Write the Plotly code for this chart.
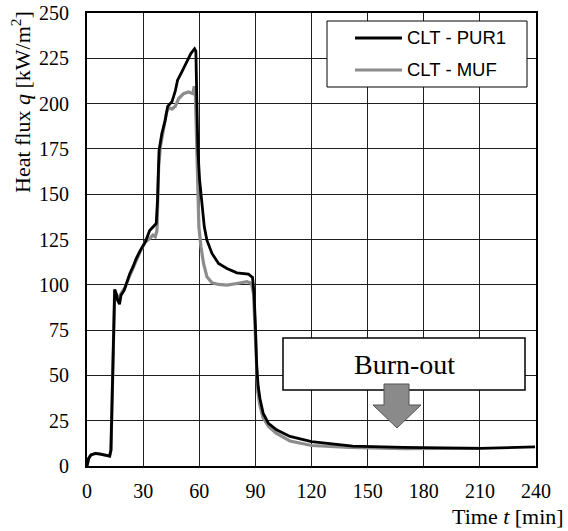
import plotly.graph_objects as go

# ---- data ----
t_pur1 = [0, 0.9, 2.1, 4.5, 7.1, 9.8, 12.1, 12.8, 13.9, 14.6, 14.8, 15.7, 16.4, 17.4, 18.2, 19.9,
          21.4, 22.8, 24.6, 26.3, 28.5, 31.2, 33.5, 35.6, 37.0, 37.7, 38.5, 40.0, 41.8, 43.1, 45.4,
          47.2, 48.4, 50.7, 53.1, 55.5, 57.5, 58.2, 58.7, 59.3, 60.2, 61.4, 62.7, 64.1, 66.8, 70.3,
          74.8, 80.1, 86.3, 88.5, 89.3, 90.0, 90.7, 91.5, 92.5, 94.2, 97.0, 101.3, 108.5, 120, 124.5,
          142, 169, 210, 239.5]
q_pur1 = [0, 4.2, 6.1, 7.0, 6.6, 6.1, 5.5, 8.8, 54.8, 91.5, 97.4, 95.0, 91.5, 89.3, 94.3, 97.0,
          101.7, 106.0, 110.0, 114.5, 119.0, 123.7, 130.0, 132.0, 133.8, 146.7, 174.0, 183.5, 190.8,
          198.5, 201.0, 207.0, 212.9, 217.5, 223.0, 227.6, 230.3, 229.0, 201.8, 174.0, 157.7, 143.0,
          132.0, 124.6, 117.3, 111.8, 109.0, 106.6, 105.9, 104.0, 95.0, 78.0, 55.0, 44.0, 37.0, 29.0,
          23.5, 20.0, 16.3, 13.4, 12.9, 11.0, 10.3, 9.7, 10.6]

t_muf = [0, 0.9, 2.1, 4.5, 7.1, 9.8, 12.1, 12.8, 13.9, 14.6, 14.8, 15.1, 16.0, 17.1, 18.7, 20.5,
         22.8, 24.6, 26.3, 28.5, 31.2, 33.5, 35.2, 36.5, 37.4, 38.3, 39.2, 40.9, 42.4, 43.6, 45.4,
         47.2, 49.0, 51.6, 54.3, 56.6, 57.3, 57.9, 58.4, 59.1, 59.8, 60.9, 62.3, 64.1, 66.8, 70.3,
         74.8, 80.1, 85.5, 87.2, 88.1, 89.0, 89.8, 90.5, 91.3, 92.3, 94.0, 97.0, 101.3, 108.5, 120,
         140, 170, 210]
q_muf = [0, 4.2, 6.1, 7.0, 6.6, 6.1, 5.5, 8.8, 54.8, 91.5, 97.4, 96.0, 92.5, 93.4, 96.0, 98.9,
         105.0, 109.5, 114.0, 118.5, 123.7, 125.5, 127.4, 126.5, 130.0, 165.0, 176.0, 185.0, 194.5,
         198.0, 197.0, 198.5, 202.8, 205.5, 206.4, 205.5, 209.6, 206.4, 183.5, 154.0, 132.0, 121.0,
         111.8, 104.4, 101.1, 100.2, 99.8, 100.7, 101.7, 101.1, 99.8, 95.0, 75.0, 52.0, 41.0, 34.0,
         27.0, 21.8, 18.0, 13.8, 11.3, 10.3, 9.6, 9.8]

series_names = ["CLT - PUR1", "CLT - MUF"]
series_colors = ["#000000", "#8c8c8c"]
x_ticks = [0, 30, 60, 90, 120, 150, 180, 210, 240]
y_ticks = [0, 25, 50, 75, 100, 125, 150, 175, 200, 225, 250]

# ---- layout geometry (pixels) ----
W, H = 568, 531
L, R, T, B = 87, 536, 13, 466
SERIF = "Liberation Serif, Times New Roman, serif"
SANS = "Liberation Sans, Arial, sans-serif"


def px(x):
    return (x - L) / (R - L)


def py(y):
    return (B - y) / (B - T)


fig = go.Figure()
fig.add_trace(go.Scatter(x=t_muf, y=q_muf, mode="lines", name=series_names[1],
                         line=dict(color=series_colors[1], width=3.2), showlegend=False))
fig.add_trace(go.Scatter(x=t_pur1, y=q_pur1, mode="lines", name=series_names[0],
                         line=dict(color=series_colors[0], width=2.8), showlegend=False))

shapes = []
annotations = []

# legend box
shapes.append(dict(type="rect", xref="paper", yref="paper", x0=px(327), x1=px(527),
                   y0=py(87), y1=py(21), fillcolor="white", line=dict(color="black", width=1),
                   layer="above"))
for i, (nm, col) in enumerate(zip(series_names, series_colors)):
    yy = 38 + 32 * i
    shapes.append(dict(type="line", xref="paper", yref="paper", x0=px(355), x1=px(402),
                       y0=py(yy), y1=py(yy), line=dict(color=col, width=3), layer="above"))
    annotations.append(dict(xref="paper", yref="paper", x=px(405), y=py(yy), text=nm,
                            showarrow=False, xanchor="left", yanchor="middle",
                            font=dict(family=SANS, size=18.5, color="black")))

# burn-out box
shapes.append(dict(type="rect", xref="paper", yref="paper", x0=px(283), x1=px(525),
                   y0=py(390), y1=py(338), fillcolor="white", line=dict(color="black", width=1.5),
                   layer="above"))
annotations.append(dict(xref="paper", yref="paper", x=px(404), y=py(364), text="Burn-out",
                        showarrow=False, xanchor="center", yanchor="middle",
                        font=dict(family=SERIF, size=28, color="black")))
# arrow
pts = [(384, 384), (409, 384), (409, 405), (421, 405), (397, 428), (373, 405), (384, 405)]
path = "M " + " L ".join(f"{px(a):.5f},{py(b):.5f}" for a, b in pts) + " Z"
shapes.append(dict(type="path", xref="paper", yref="paper", path=path, fillcolor="#8a8a8a",
                   line=dict(color="#555555", width=1), layer="above"))

# axis titles
annotations.append(dict(xref="paper", yref="paper", x=px(21), y=py(102),
                        text="Heat flux <i>q</i> [kW/m<sup>2</sup>]", textangle=-90,
                        showarrow=False, xanchor="center", yanchor="middle",
                        font=dict(family=SERIF, size=22, color="black")))
annotations.append(dict(xref="paper", yref="paper", x=px(566), y=py(516),
                        text="Time <i>t</i> [min]", showarrow=False, xanchor="right",
                        yanchor="middle", font=dict(family=SERIF, size=22, color="black")))

fig.update_layout(
    width=W, height=H,
    margin=dict(l=L, r=W - R, t=T, b=H - B, pad=0, autoexpand=False),
    paper_bgcolor="white", plot_bgcolor="white",
    shapes=shapes, annotations=annotations,
    xaxis=dict(range=[0, 240], tickvals=x_ticks, ticktext=[str(v) for v in x_ticks],
               showgrid=True, gridcolor="#1e1e1e", gridwidth=1, zeroline=False,
               showline=True, linecolor="black", linewidth=2, mirror=True,
               ticks="", ticklabelstandoff=6, automargin=False,
               tickfont=dict(family=SERIF, size=20, color="black")),
    yaxis=dict(range=[0, 250], tickvals=y_ticks, ticktext=[str(v) for v in y_ticks],
               showgrid=True, gridcolor="#1e1e1e", gridwidth=1, zeroline=False,
               showline=True, linecolor="black", linewidth=2, mirror=True,
               ticks="", ticklabelstandoff=12, automargin=False,
               tickfont=dict(family=SERIF, size=20, color="black")),
)

fig.write_html("out.html", config={"displayModeBar": False},
               post_script="document.body.style.margin='0px';document.body.style.padding='0px';")
